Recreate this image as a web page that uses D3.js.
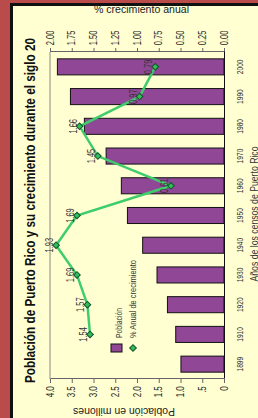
<!DOCTYPE html>
<html>
<head>
<meta charset="utf-8">
<title>Poblacion Puerto Rico</title>
<script src="https://cdn.jsdelivr.net/npm/d3@7"></script>
<style>
  body { margin: 0; background: #b94b4b; }
  svg { display: block; }
  text { font-family: 'Liberation Sans', Arial, sans-serif; }
</style>
</head>
<body>
<svg width="258" height="418" id="mainsvg"></svg>
<script>
// data
const years = ['1899', '1910', '1920', '1930', '1940', '1950', '1960', '1970', '1980', '1990', '2000'];
const poblacion = [0.99, 1.11, 1.30, 1.54, 1.87, 2.22, 2.36, 2.71, 3.21, 3.53, 3.83];
const crecimiento = [null, 1.54, 1.57, 1.69, 1.93, 1.69, 0.61, 1.45, 1.66, 0.97, 0.79];
const popTicks = [0, 0.5, 1, 1.5, 2, 2.5, 3, 3.5, 4];
const popTickLabels = ['0', '.5', '1.0', '1.5', '2.0', '2.5', '3.0', '3.5', '4.0'];
const growthTicks = [0, 0.25, 0.5, 0.75, 1, 1.25, 1.5, 1.75, 2];
const growthTickLabels = ['0.00', '0.25', '0.50', '0.75', '1.00', '1.25', '1.50', '1.75', '2.00'];

const svg = d3.select('#mainsvg');
const width = +svg.attr('width');
const height = +svg.attr('height');

// frame: red border, black line, cream paper
svg.append('rect').attr('width', width).attr('height', height).attr('fill', '#b94b4b');
svg.append('rect').attr('x', 10).attr('y', 3).attr('width', width - 10).attr('height', height - 3).attr('fill', '#111');
svg.append('rect').attr('x', 13).attr('y', 6).attr('width', width - 13).attr('height', height - 6).attr('fill', '#ffffd2');

// the chart is laid out landscape and turned a quarter left
const g = svg.append('g').attr('transform', `translate(0, ${height}) rotate(-90)`);
const plot = {left: 39, right: 366, top: 50, bottom: 224};
const squeeze = 'scale(0.75, 1)';

const data = years.map((y, i) => ({year: y, pop: poblacion[i], g: crecimiento[i]}));

const xScale = d3.scaleBand()
  .domain(years)
  .range([plot.left, plot.right])
  .paddingInner(0.46)
  .paddingOuter(0.23);
const yPop = d3.scaleLinear().domain([0, 4]).range([plot.bottom, plot.top]);
const yGrowth = d3.scaleLinear().domain([0, 2]).range([plot.bottom, plot.top]);

// plot area top edge
g.append('line')
  .attr('x1', plot.left).attr('x2', plot.right)
  .attr('y1', plot.top).attr('y2', plot.top)
  .attr('stroke', '#8a8a80');

// bars
g.selectAll('rect.bar')
  .data(data)
  .enter()
  .append('rect')
  .attr('class', 'bar')
  .attr('x', d => xScale(d.year))
  .attr('y', d => yPop(d.pop))
  .attr('width', xScale.bandwidth())
  .attr('height', d => plot.bottom - yPop(d.pop))
  .attr('fill', '#904896')
  .attr('stroke', '#111')
  .attr('stroke-width', 1);

// axes
const popAxis = g.append('g')
  .attr('transform', `translate(${plot.left}, 0)`)
  .call(d3.axisLeft(yPop).tickValues(popTicks).tickFormat((d, i) => popTickLabels[i])
    .tickSize(4).tickSizeOuter(0).tickPadding(5));
popAxis.selectAll('text').attr('transform', 'scale(0.8, 1)').attr('font-size', 10).attr('fill', '#222');
popAxis.selectAll('.domain, line').attr('stroke', '#666');

const growthAxis = g.append('g')
  .attr('transform', `translate(${plot.right}, 0)`)
  .call(d3.axisRight(yGrowth).tickValues(growthTicks).tickFormat((d, i) => growthTickLabels[i])
    .tickSize(4).tickSizeOuter(0).tickPadding(5));
growthAxis.selectAll('text').attr('transform', squeeze).attr('font-size', 10).attr('fill', '#222');
growthAxis.selectAll('.domain, line').attr('stroke', '#666');

const yearAxis = g.append('g')
  .attr('transform', `translate(0, ${plot.bottom})`)
  .call(d3.axisBottom(xScale).tickSize(0).tickPadding(12));
yearAxis.selectAll('text').attr('transform', 'scale(0.7, 1)').attr('font-size', 9.5).attr('fill', '#333');
yearAxis.select('.domain').attr('stroke', '#111');

// growth line
const line = d3.line()
  .defined(d => d.g != null)
  .x(d => xScale(d.year) + xScale.bandwidth() / 2)
  .y(d => yGrowth(d.g));
g.append('path')
  .datum(data)
  .attr('d', line)
  .attr('fill', 'none')
  .attr('stroke', '#3fcd6c')
  .attr('stroke-width', 2.5);

const diamond = d3.symbol(d3.symbolSquare, 22);
const pts = data.filter(d => d.g != null);
g.selectAll('path.pt')
  .data(pts)
  .enter()
  .append('path')
  .attr('class', 'pt')
  .attr('d', diamond)
  .attr('transform', d => `translate(${xScale(d.year) + xScale.bandwidth() / 2}, ${yGrowth(d.g)}) rotate(45)`)
  .attr('fill', '#2fbf5a')
  .attr('stroke', '#16502a')
  .attr('stroke-width', 1);

g.selectAll('text.lbl')
  .data(pts)
  .enter()
  .append('text')
  .attr('class', 'lbl')
  .attr('transform', d => `translate(${xScale(d.year) + xScale.bandwidth() / 2}, ${yGrowth(d.g) - 3}) ${squeeze}`)
  .attr('text-anchor', 'middle')
  .attr('font-size', 10)
  .attr('fill', '#333')
  .text(d => d.g.toFixed(2));

// legend
g.append('rect')
  .attr('x', 66).attr('y', 111).attr('width', 8).attr('height', 11)
  .attr('fill', '#904896').attr('stroke', '#111');
g.append('path')
  .attr('d', diamond)
  .attr('transform', 'translate(70, 133) rotate(45)')
  .attr('fill', '#2fbf5a').attr('stroke', '#16502a');
g.append('text')
  .attr('x', 80).attr('y', 122)
  .attr('font-size', 9).attr('fill', '#333')
  .attr('textLength', 30).attr('lengthAdjust', 'spacingAndGlyphs')
  .text('Población');
g.append('text')
  .attr('x', 80).attr('y', 136)
  .attr('font-size', 9).attr('fill', '#333')
  .attr('textLength', 78).attr('lengthAdjust', 'spacingAndGlyphs')
  .text('% Anual de crecimiento');

// titles
g.append('text')
  .attr('x', 207.5).attr('y', 35)
  .attr('text-anchor', 'middle')
  .attr('font-size', 14).attr('font-weight', 'bold').attr('fill', '#111')
  .attr('textLength', 345).attr('lengthAdjust', 'spacingAndGlyphs')
  .text('Población de Puerto Rico y su crecimiento durante el siglo 20');

g.append('text')
  .attr('transform', 'translate(405, 141.5) rotate(90)')
  .attr('text-anchor', 'middle')
  .attr('font-size', 10).attr('fill', '#222')
  .attr('textLength', 95).attr('lengthAdjust', 'spacingAndGlyphs')
  .text('% crecimiento  anual');

g.append('text')
  .attr('transform', 'translate(10, 124) rotate(-90)')
  .attr('text-anchor', 'middle')
  .attr('font-size', 10).attr('fill', '#222')
  .attr('textLength', 102).attr('lengthAdjust', 'spacingAndGlyphs')
  .text('Población en millones');

g.append('text')
  .attr('x', 204).attr('y', 257.5)
  .attr('text-anchor', 'middle')
  .attr('font-size', 10.5).attr('fill', '#333')
  .attr('textLength', 135).attr('lengthAdjust', 'spacingAndGlyphs')
  .text('Años de los censos de Puerto Rico');
</script>
</body>
</html>
